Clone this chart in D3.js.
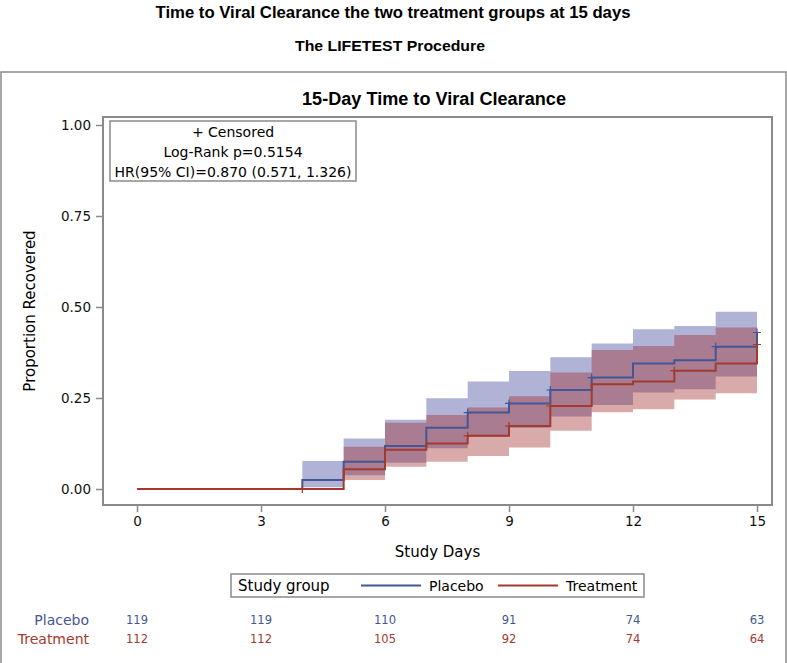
<!DOCTYPE html>
<html><head><meta charset="utf-8">
<script src="https://cdn.jsdelivr.net/npm/d3@7"></script>
<style>body{margin:0;background:#fff}svg{display:block}text{font-family:"DejaVu Sans","Liberation Sans",sans-serif}.bt{font-family:"Liberation Sans","DejaVu Sans",sans-serif;font-weight:bold}</style>
</head><body>
<script>
// ---------- data ----------
const days = [0,4,5,6,7,8,9,10,11,12,13,14,15];
const placebo   = [0,0.025,0.075,0.118,0.168,0.210,0.235,0.272,0.306,0.345,0.354,0.391,0.430];
const treatment = [0,0,0.054,0.108,0.125,0.146,0.173,0.228,0.288,0.295,0.325,0.345,0.397];
const placeboLower   = [0,0.005,0.038,0.072,0.112,0.144,0.168,0.199,0.231,0.265,0.274,0.309,0.309];
const placeboUpper   = [0,0.077,0.139,0.190,0.249,0.295,0.324,0.362,0.400,0.439,0.448,0.487,0.487];
const treatmentLower = [0,0,0.025,0.061,0.075,0.091,0.114,0.160,0.211,0.219,0.246,0.263,0.263];
const treatmentUpper = [0,0,0.116,0.182,0.203,0.224,0.255,0.320,0.382,0.393,0.423,0.444,0.444];
const placeboCensor   = [8,9,10,11,14,15];
const treatmentCensor = [4,8,9,10,13,15];
const xTicks = [0,3,6,9,12,15];
const yTicks = [0,0.25,0.5,0.75,1.0];
const atRiskPlacebo   = [119,119,110,91,74,63];
const atRiskTreatment = [112,112,105,92,74,64];
const groups = ["Placebo","Treatment"];
const statsLines = ["+ Censored","Log-Rank p=0.5154","HR(95% CI)=0.870 (0.571, 1.326)"];

// ---------- styles ----------
const W=787,H=663;
const blue="#445694", red="#A23A2E";
const blueFill="#3a4198", redFill="#a02a2a";
const frameCol="#8a8a8a";

const svg=d3.select("body").append("svg").attr("width",W).attr("height",H);

// titles
svg.append("text").attr("class","bt").attr("x",393).attr("y",18).attr("text-anchor","middle")
  .attr("font-size",16).attr("textLength",475).attr("lengthAdjust","spacingAndGlyphs")
  .text("Time to Viral Clearance the two treatment groups at 15 days");
svg.append("text").attr("class","bt").attr("x",390).attr("y",51).attr("text-anchor","middle")
  .attr("font-size",15).attr("textLength",190).attr("lengthAdjust","spacingAndGlyphs")
  .text("The LIFETEST Procedure");

// outer box
svg.append("rect").attr("x",1).attr("y",72).attr("width",W-2).attr("height",H).attr("fill","none")
  .attr("stroke",frameCol).attr("stroke-width",1.5);

const frame={l:103,r:772,t:117,b:505};
const x=d3.scaleLinear().domain([0,15]).range([137,757]);
const y=d3.scaleLinear().domain([0,1]).range([489,125]);

svg.append("text").attr("class","bt").attr("x",434).attr("y",105).attr("text-anchor","middle")
  .attr("font-size",17.5).attr("textLength",264).attr("lengthAdjust","spacingAndGlyphs")
  .text("15-Day Time to Viral Clearance");

// bands
function band(lo,hi,fill){
  const area=d3.area().curve(d3.curveStepAfter).x((d,i)=>x(days[i])).y0((d,i)=>y(lo[i])).y1((d,i)=>y(hi[i]));
  svg.append("path").datum(days).attr("d",area).attr("fill",fill).attr("fill-opacity",0.4);
}
band(placeboLower,placeboUpper,blueFill);
band(treatmentLower,treatmentUpper,redFill);

// step lines
function step(vals,col){
  const line=d3.line().curve(d3.curveStepAfter).x((d,i)=>x(days[i])).y((d,i)=>y(vals[i]));
  svg.append("path").datum(days).attr("d",line).attr("fill","none").attr("stroke",col).attr("stroke-width",2);
}
step(placebo,blue);
step(treatment,red);

// censor marks
function censor(cd,vals,col){
  cd.forEach(t=>{
    const v=vals[days.indexOf(t)];
    const cx=x(t), cy=y(v);
    svg.append("path").attr("d",`M${cx-4},${cy}H${cx+4}M${cx},${cy-4}V${cy+4}`)
      .attr("stroke",col).attr("stroke-width",1.2).attr("fill","none");
  });
}
censor(placeboCensor,placebo,blue);
censor(treatmentCensor,treatment,red);

// frame
svg.append("rect").attr("x",frame.l).attr("y",frame.t).attr("width",frame.r-frame.l).attr("height",frame.b-frame.t)
  .attr("fill","none").attr("stroke",frameCol).attr("stroke-width",2);

// axes
const yAxis=d3.axisLeft(y).tickValues(yTicks).tickFormat(d3.format(".2f")).tickSize(6).tickPadding(5);
const gy=svg.append("g").attr("transform",`translate(${frame.l-1},0)`).call(yAxis);
const xAxis=d3.axisBottom(x).tickValues(xTicks).tickSize(6).tickPadding(4);
const gx=svg.append("g").attr("transform",`translate(0,${frame.b+1})`).call(xAxis);
[gx,gy].forEach(g=>{
  g.select(".domain").remove();
  g.selectAll(".tick line").attr("stroke",frameCol).attr("stroke-width",1.5);
  g.selectAll(".tick text").attr("font-size",13.5).attr("fill","#111")
   .style("font-family",'"DejaVu Sans","Liberation Sans",sans-serif');
});

svg.append("text").attr("transform",`translate(35,${(frame.t+frame.b)/2}) rotate(-90)`).attr("text-anchor","middle")
  .attr("font-size",15).text("Proportion Recovered");
svg.append("text").attr("x",(frame.l+frame.r)/2).attr("y",557).attr("text-anchor","middle")
  .attr("font-size",15).text("Study Days");

// stats inset
svg.append("rect").attr("x",110).attr("y",121).attr("width",246).attr("height",60)
  .attr("fill","#fff").attr("stroke",frameCol).attr("stroke-width",1.5);
statsLines.forEach((s,i)=>{
  svg.append("text").attr("x",233).attr("y",137+i*20).attr("text-anchor","middle").attr("font-size",14).text(s);
});

// legend
svg.append("rect").attr("x",231).attr("y",574).attr("width",413).attr("height",23)
  .attr("fill","#fff").attr("stroke",frameCol).attr("stroke-width",1.5);
svg.append("text").attr("x",238).attr("y",591).attr("font-size",15).text("Study group");
const legItems=[{lx:361,tx:429,col:blue},{lx:498,tx:566,col:red}];
groups.forEach((g,i)=>{
  const it=legItems[i];
  svg.append("line").attr("x1",it.lx).attr("x2",it.lx+60).attr("y1",585.5).attr("y2",585.5).attr("stroke",it.col).attr("stroke-width",2);
  svg.append("text").attr("x",it.tx).attr("y",591).attr("font-size",14).text(g);
});

// at risk table
const riskRows=[atRiskPlacebo,atRiskTreatment];
const rowCols=[blue,red];
groups.forEach((g,i)=>{
  const yy=625+i*19;
  svg.append("text").attr("x",89).attr("y",yy).attr("text-anchor","end").attr("font-size",14).attr("fill",rowCols[i]).text(g);
  riskRows[i].forEach((n,j)=>{
    svg.append("text").attr("x",x(xTicks[j])).attr("y",yy-1).attr("text-anchor","middle").attr("font-size",11.5).attr("fill",rowCols[i]).text(n);
  });
});
</script>
</body></html>
